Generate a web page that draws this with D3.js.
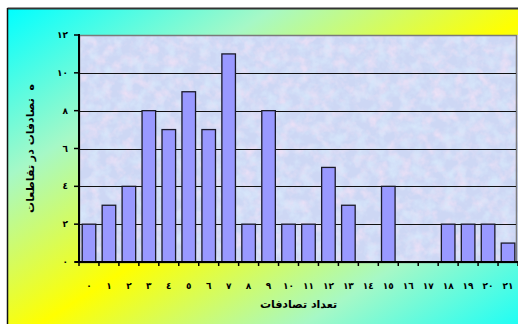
<!DOCTYPE html>
<html>
<head>
<meta charset="utf-8">
<script src="https://cdn.jsdelivr.net/npm/d3@7"></script>
<style>
  html, body { margin: 0; padding: 0; background: #fff; }
  svg { display: block; }
</style>
</head>
<body>
<svg id="chart" width="518" height="324"></svg>
<script>
// Number of accidents per intersection (x) and how many intersections had that count (y)
const categories = ["٠","١","٢","٣","٤","٥","٦","٧","٨","٩","١٠","١١","١٢","١٣","١٤","١٥","١٦","١٧","١٨","١٩","٢٠","٢١"];
const counts     = [2, 3, 4, 8, 7, 9, 7, 11, 2, 8, 2, 2, 5, 3, 0, 4, 0, 0, 2, 2, 2, 1];
const yTicks     = [0, 2, 4, 6, 8, 10, 12];
const yTickLabels = ["٠","٢","٤","٦","٨","١٠","١٢"];
const xTitle = "تعداد تصادفات";
const yTitle = "ه  تصادفات در تقاطعات";

const svg = d3.select("#chart");
const W = 518, H = 324;
const frame = { x: 8, y: 9 };
const plot = { left: 79, top: 35, right: 518, bottom: 262 };

const defs = svg.append("defs");

// Diagonal cyan → yellow → cyan chart-area fill
const bg = defs.append("linearGradient").attr("id", "bgGrad")
  .attr("x1", 0).attr("y1", 0).attr("x2", 1).attr("y2", 1);
[["0%", "#00ffff"], ["25%", "#a6f8c6"], ["50%", "#ffff00"], ["75%", "#a6f8c6"], ["100%", "#00ffff"]]
  .forEach(([o, c]) => bg.append("stop").attr("offset", o).attr("stop-color", c));

// Mottled pastel texture for the plotting area
const tex = defs.append("filter").attr("id", "mottle")
  .attr("x", 0).attr("y", 0).attr("width", 1).attr("height", 1);
tex.append("feTurbulence").attr("type", "fractalNoise")
  .attr("baseFrequency", 0.09).attr("numOctaves", 3).attr("seed", 7).attr("result", "n");
tex.append("feColorMatrix").attr("in", "n").attr("type", "matrix")
  .attr("values", "0 0 0 0 0.93  0 0 0 0 0.78  0 0 0 0 0.93  2.2 0 0 0 -0.95")
  .attr("result", "pink");
tex.append("feColorMatrix").attr("in", "n").attr("type", "matrix")
  .attr("values", "0 0 0 0 0.70  0 0 0 0 0.84  0 0 0 0 0.98  0 2.2 0 0 -0.95")
  .attr("result", "blue");
const merge = tex.append("feMerge");
merge.append("feMergeNode").attr("in", "pink");
merge.append("feMergeNode").attr("in", "blue");

// Chart area
svg.append("rect")
  .attr("x", frame.x).attr("y", frame.y)
  .attr("width", W - frame.x + 20).attr("height", H - frame.y + 20)
  .attr("fill", "url(#bgGrad)");
svg.append("line").attr("x1", frame.x - 0.5).attr("x2", W).attr("y1", frame.y - 0.5).attr("y2", frame.y - 0.5)
  .attr("stroke", "#333").attr("stroke-width", 2);
svg.append("line").attr("x1", frame.x - 0.5).attr("x2", frame.x - 0.5).attr("y1", frame.y - 1).attr("y2", H)
  .attr("stroke", "#111").attr("stroke-width", 1.5);

// Scales
const x = d3.scaleBand().domain(categories)
  .range([plot.left, plot.right]).paddingInner(0.32).paddingOuter(0.16);
const y = d3.scaleLinear().domain([0, 12]).range([plot.bottom, plot.top]);

// Plotting area background
svg.append("rect")
  .attr("x", plot.left).attr("y", plot.top)
  .attr("width", plot.right - plot.left).attr("height", plot.bottom - plot.top)
  .attr("fill", "#cdd7f4");
svg.append("rect")
  .attr("x", plot.left).attr("y", plot.top)
  .attr("width", plot.right - plot.left).attr("height", plot.bottom - plot.top)
  .attr("fill", "#fff").attr("filter", "url(#mottle)").attr("opacity", 0.75);
svg.append("rect")
  .attr("x", plot.left + 0.5).attr("y", plot.top + 0.5)
  .attr("width", plot.right - plot.left - 2).attr("height", plot.bottom - plot.top)
  .attr("fill", "none").attr("stroke", "#7a7a7a").attr("stroke-width", 1.5);

// Horizontal gridlines
svg.append("g")
  .selectAll("line")
  .data(yTicks.filter(t => t > 0 && t < 12))
  .join("line")
  .attr("x1", plot.left).attr("x2", plot.right - 2)
  .attr("y1", d => Math.round(y(d)) + 0.5).attr("y2", d => Math.round(y(d)) + 0.5)
  .attr("stroke", "#111").attr("stroke-width", 1);

// Bars
svg.append("g")
  .selectAll("rect")
  .data(counts.map((v, i) => ({ cat: categories[i], v })).filter(d => d.v > 0))
  .join("rect")
  .attr("x", d => x(d.cat))
  .attr("y", d => y(d.v))
  .attr("width", x.bandwidth())
  .attr("height", d => y(0) - y(d.v))
  .attr("fill", "#9999ff")
  .attr("stroke", "#1a1a2a")
  .attr("stroke-width", 1.3);

const fontFamily = "'DejaVu Sans', sans-serif";

// X axis: boundary ticks between categories
const xAxis = svg.append("g").attr("transform", `translate(0,${plot.bottom})`);
const step = x.step();
const boundaries = d3.range(categories.length + 1).map(i => plot.left + i * step);
xAxis.selectAll("line.tick").data(boundaries).join("line")
  .attr("class", "tick")
  .attr("x1", d => d).attr("x2", d => d).attr("y1", 0).attr("y2", 4)
  .attr("stroke", "#000").attr("stroke-width", 1.5);
xAxis.append("line").attr("x1", plot.left - 4).attr("x2", plot.right).attr("y1", 0).attr("y2", 0)
  .attr("stroke", "#000").attr("stroke-width", 2);
xAxis.selectAll("text").data(categories).join("text")
  .attr("x", d => x(d) + x.bandwidth() / 2)
  .attr("y", 27)
  .attr("text-anchor", "middle")
  .attr("font-family", fontFamily)
  .attr("font-size", 9)
  .attr("font-weight", "bold")
  .attr("fill", "#000")
  .text(d => d);

// Y axis
const yAxis = svg.append("g").attr("transform", `translate(${plot.left},0)`);
yAxis.append("line").attr("x1", 0).attr("x2", 0).attr("y1", plot.top - 1).attr("y2", plot.bottom)
  .attr("stroke", "#000").attr("stroke-width", 2);
yAxis.selectAll("line.tick").data(yTicks).join("line")
  .attr("class", "tick")
  .attr("x1", -5).attr("x2", 0)
  .attr("y1", d => y(d)).attr("y2", d => y(d))
  .attr("stroke", "#000").attr("stroke-width", 1.5);
yAxis.selectAll("text").data(yTicks).join("text")
  .attr("x", -11)
  .attr("y", d => y(d))
  .attr("dy", "0.35em")
  .attr("text-anchor", "end")
  .attr("font-family", fontFamily)
  .attr("font-size", 9)
  .attr("font-weight", "bold")
  .attr("fill", "#000")
  .text((d, i) => yTickLabels[i]);

// Axis titles
svg.append("text")
  .attr("x", (plot.left + plot.right) / 2)
  .attr("y", 308)
  .attr("text-anchor", "middle")
  .attr("font-family", fontFamily)
  .attr("font-size", 11)
  .attr("font-weight", "bold")
  .attr("fill", "#000")
  .text(xTitle);

svg.append("text")
  .attr("transform", `translate(34,${(plot.top + plot.bottom) / 2}) rotate(-90)`)
  .attr("text-anchor", "middle")
  .attr("font-family", fontFamily)
  .attr("font-size", 11)
  .attr("font-weight", "bold")
  .attr("fill", "#000")
  .attr("xml:space", "preserve")
  .style("white-space", "pre")
  .text(yTitle);
</script>
</body>
</html>
